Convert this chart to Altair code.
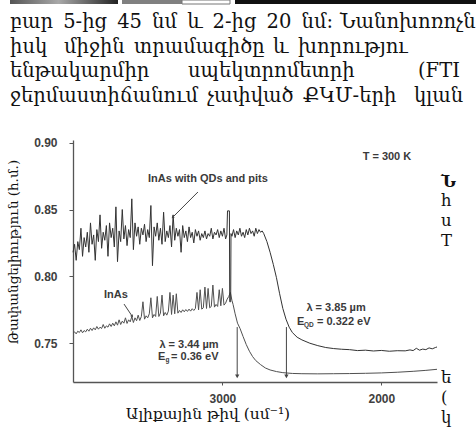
import altair as alt
import pandas as pd

# ---- spectra -------------------------------------------------------------
# InAs with quantum dots and pits (upper trace)
qd_wn = [
    3940, 3930, 3920, 3910, 3900, 3890, 3880, 3870, 3860, 3850,
    3840, 3830, 3820, 3810, 3800, 3790, 3780, 3770, 3760, 3750,
    3740, 3730, 3720, 3710, 3700, 3690, 3680, 3670, 3660, 3650,
    3640, 3630, 3620, 3610, 3600, 3590, 3580, 3570, 3560, 3550,
    3540, 3530, 3520, 3510, 3500, 3490, 3480, 3470, 3460, 3450,
    3440, 3430, 3420, 3410, 3400, 3390, 3380, 3370, 3360, 3350,
    3340, 3330, 3320, 3310, 3300, 3290, 3280, 3270, 3260, 3250,
    3240, 3230, 3220, 3210, 3200, 3190, 3180, 3170, 3160, 3150,
    3140, 3130, 3120, 3110, 3100, 3090, 3080, 3070, 3060, 3050,
    3040, 3030, 3020, 3010, 3000, 2990, 2980,
    2972, 2968, 2956, 2954, 2948, 2946,
    2940, 2930, 2920, 2910, 2900, 2890, 2880, 2870, 2860, 2850,
    2840, 2830, 2820, 2810, 2800, 2790, 2780, 2770, 2760, 2750,
    2740, 2720, 2700, 2680, 2660, 2640, 2620, 2600, 2580, 2560,
    2530, 2500, 2450, 2400, 2350, 2300, 2250, 2200, 2150, 2100,
    2050, 2000, 1950, 1900, 1850, 1820, 1800, 1780, 1760, 1740,
    1720, 1700, 1680, 1660, 1650,
]
qd_tr = [
    0.818, 0.824, 0.812, 0.826, 0.820, 0.836, 0.815, 0.829, 0.822, 0.833,
    0.818, 0.840, 0.824, 0.831, 0.812, 0.835, 0.826, 0.846, 0.821, 0.833,
    0.827, 0.838, 0.815, 0.840, 0.829, 0.836, 0.822, 0.852, 0.811, 0.834,
    0.826, 0.850, 0.828, 0.838, 0.823, 0.835, 0.829, 0.858, 0.820, 0.840,
    0.830, 0.837, 0.824, 0.836, 0.831, 0.839, 0.826, 0.835, 0.829, 0.853,
    0.808, 0.837, 0.830, 0.840, 0.827, 0.836, 0.824, 0.848, 0.826, 0.834,
    0.829, 0.838, 0.822, 0.846, 0.827, 0.836, 0.830, 0.835, 0.818, 0.838,
    0.829, 0.834, 0.826, 0.837, 0.829, 0.833, 0.825, 0.835, 0.830, 0.834,
    0.827, 0.832, 0.829, 0.834, 0.828, 0.832, 0.830, 0.836, 0.828, 0.833,
    0.831, 0.835, 0.829, 0.834, 0.830, 0.836, 0.828,
    0.831, 0.849, 0.849, 0.781, 0.781, 0.832,
    0.830, 0.835, 0.829, 0.834, 0.831, 0.836, 0.830, 0.833, 0.829, 0.835,
    0.831, 0.836, 0.832, 0.834, 0.830, 0.836, 0.832, 0.835, 0.833, 0.834,
    0.832, 0.826, 0.818, 0.809, 0.799, 0.787, 0.776, 0.768, 0.762, 0.758,
    0.7545, 0.7525, 0.7500, 0.7482, 0.7468, 0.7460, 0.7455, 0.7452, 0.7445, 0.7448,
    0.7442, 0.7446, 0.7440, 0.7444, 0.7443, 0.7450, 0.7445, 0.7462, 0.7448, 0.7456,
    0.7452, 0.7465, 0.7458, 0.7468, 0.7472,
]

# Bare InAs (lower trace)
inas_wn = [
    3940, 3930, 3920, 3910, 3900, 3890, 3880, 3870, 3860, 3850,
    3840, 3830, 3820, 3810, 3800, 3790, 3780, 3770, 3760, 3750,
    3740, 3730, 3720, 3710, 3700, 3690, 3680, 3670, 3660, 3650,
    3640, 3630, 3620, 3610, 3600, 3590, 3580, 3570, 3560, 3550,
    3540, 3530, 3520, 3510, 3500, 3490, 3480, 3470, 3460, 3450,
    3440, 3430, 3420, 3410, 3400, 3390, 3380, 3370, 3360, 3350,
    3340, 3330, 3320, 3310, 3300, 3290, 3280, 3270, 3260, 3250,
    3240, 3230, 3220, 3210, 3200, 3190, 3180, 3170, 3160, 3150,
    3140, 3130, 3120, 3110, 3100, 3090, 3080, 3070, 3060, 3050,
    3040, 3030, 3020, 3010, 3000, 2990, 2980, 2970, 2960, 2950,
    2940, 2933, 2920, 2905, 2889, 2870, 2850, 2830, 2810, 2790,
    2760, 2730, 2700, 2660, 2620, 2560, 2500, 2400, 2300, 2200,
    2100, 2000, 1900, 1800, 1720, 1650,
]
inas_tr = [
    0.7575, 0.7585, 0.7570, 0.7590, 0.7580, 0.7600, 0.7578, 0.7595, 0.7585, 0.7605,
    0.7590, 0.7612, 0.7595, 0.7615, 0.7600, 0.7625, 0.7605, 0.7620, 0.7610, 0.7640,
    0.7612, 0.7630, 0.7620, 0.7645, 0.7625, 0.7650, 0.7630, 0.7660, 0.7635, 0.7675,
    0.7640, 0.7665, 0.7650, 0.7690, 0.7648, 0.7675, 0.7660, 0.7700, 0.7655, 0.7690,
    0.7668, 0.7710, 0.7670, 0.7700, 0.7810, 0.7680, 0.7705, 0.7690, 0.7720, 0.7840,
    0.7690, 0.7715, 0.7700, 0.7850, 0.7700, 0.7725, 0.7860, 0.7705, 0.7730, 0.7710,
    0.7740, 0.7880, 0.7715, 0.7860, 0.7720, 0.7870, 0.7725, 0.7745, 0.7730, 0.7750,
    0.7735, 0.7752, 0.7738, 0.7755, 0.7740, 0.7758, 0.7745, 0.7760, 0.7880, 0.7750,
    0.7900, 0.7755, 0.7765, 0.7920, 0.7760, 0.7910, 0.7765, 0.7775, 0.7935, 0.7770,
    0.7790, 0.7775, 0.7900, 0.7780, 0.7910, 0.7785, 0.7800, 0.7830, 0.7850, 0.7880,
    0.7820, 0.7790, 0.7720, 0.7650, 0.7610, 0.7550, 0.7490, 0.7440, 0.7400, 0.7370,
    0.7340, 0.7315, 0.7300, 0.7288, 0.7280, 0.7274, 0.7272, 0.7271, 0.7272, 0.7273,
    0.7275, 0.7278, 0.7283, 0.7290, 0.7297, 0.7305,
]

x_ticks = [3000, 2000]
y_ticks = [0.75, 0.80, 0.85, 0.90]

# absorption edges: wavelength (µm) and energy (eV)
edge_lambda = [3.44, 3.85]
edge_energy = [0.36, 0.322]

# ---- layout --------------------------------------------------------------
W, H = 476, 438
X0, Y0 = 73, 140          # plot origin on the page
PW, PH = 364, 242         # plot area size

SERIF = "DejaVu Serif"
SANS = "Liberation Sans"
INK = "#111111"
GREY = "#404040"
BODY = 19.5
SIDE = 16.5
THIN = "\u2009"           # extra word spacing for justified lines

xs = alt.Scale(domain=[1650, 3940], reverse=True, nice=False, zero=False)
ys = alt.Scale(domain=[0.721, 0.902], nice=False, zero=False)

x_axis = alt.Axis(values=x_ticks, format="d", title=None, grid=False,
                  tickSize=3, labelPadding=8, labelFont=SANS,
                  labelFontWeight="bold", labelFontSize=12, labelColor=GREY,
                  domainColor="#555555", tickColor="#555555", domainWidth=1.3,
                  labelFlush=False)
y_axis = alt.Axis(values=y_ticks, format=".2f", title=None, grid=False,
                  tickSize=4, labelPadding=12, labelFont=SANS,
                  labelFontWeight="bold", labelFontSize=12, labelColor=GREY,
                  domainColor="#555555", tickColor="#555555", domainWidth=1.3)

qd_df = pd.DataFrame({"wn": qd_wn, "tr": qd_tr})
inas_df = pd.DataFrame({"wn": inas_wn, "tr": inas_tr})

qd_line = alt.Chart(qd_df).mark_line(color="#333333", strokeWidth=1).encode(
    x=alt.X("wn:Q", scale=xs, axis=x_axis),
    y=alt.Y("tr:Q", scale=ys, axis=y_axis),
    order=alt.Order("wn:Q", sort="descending"),
)
inas_line = alt.Chart(inas_df).mark_line(color="#505050", strokeWidth=1).encode(
    x=alt.X("wn:Q", scale=xs),
    y=alt.Y("tr:Q", scale=ys),
    order=alt.Order("wn:Q", sort="descending"),
)

# vertical arrows at the absorption edges (wavenumber = 1e4 / lambda)
edge_df = pd.DataFrame({
    "wn": [1e4 / l for l in edge_lambda],
    "top": [0.7621, 0.7621],
    "bot": [0.7252, 0.7252],
})
edge_rules = alt.Chart(edge_df).mark_rule(color="#444444", strokeWidth=1).encode(
    x=alt.X("wn:Q", scale=xs), y=alt.Y("top:Q", scale=ys), y2="bot:Q")
edge_heads = alt.Chart(edge_df).mark_point(
    shape="triangle-down", filled=True, size=18, color="#444444", opacity=1
).encode(x=alt.X("wn:Q", scale=xs), y=alt.Y("bot:Q", scale=ys))


def fmt_edge(i):
    return f"= {edge_energy[i]:g} eV"


# annotation labels inside the plot
ann_df = pd.DataFrame([
    {"t": "T = 300 K", "wn": 1965, "tr": 0.8893, "a": "center"},
    {"t": "InAs with QDs and pits", "wn": 3091, "tr": 0.8728, "a": "center"},
    {"t": "InAs", "wn": 3670, "tr": 0.7861, "a": "center"},
    {"t": f"λ = {edge_lambda[0]:.2f} µm", "wn": 3210, "tr": 0.7487, "a": "center"},
    {"t": "E", "wn": 3405, "tr": 0.7397, "a": "left"},
    {"t": fmt_edge(0), "wn": 3323, "tr": 0.7397, "a": "left"},
    {"t": f"λ = {edge_lambda[1]:.2f} µm", "wn": 2285, "tr": 0.7763, "a": "center"},
    {"t": "E", "wn": 2531, "tr": 0.7659, "a": "left"},
    {"t": fmt_edge(1), "wn": 2405, "tr": 0.7659, "a": "left"},
])
sub_df = pd.DataFrame([
    {"t": "g", "wn": 3358, "tr": 0.7377},
    {"t": "QD", "wn": 2487, "tr": 0.7638},
])


def ann_layer(df, align, size):
    return alt.Chart(df).mark_text(
        font=SANS, fontSize=size, fontWeight="bold", color="#3a3a3a",
        align=align, baseline="middle"
    ).encode(x=alt.X("wn:Q", scale=xs), y=alt.Y("tr:Q", scale=ys), text="t:N")


ann_center = ann_layer(ann_df[ann_df.a == "center"], "center", 11)
ann_left = ann_layer(ann_df[ann_df.a == "left"], "left", 11)
ann_sub = ann_layer(sub_df, "left", 6.5)

# pointer lines from the curve labels
ptr_df = pd.DataFrame({
    "x1": [3154, 3619], "y1": [0.8631, 0.7793],
    "x2": [3311, 3569], "y2": [0.8444, 0.7704],
    "ang": [225, 146],
})
ptr_rules = alt.Chart(ptr_df).mark_rule(color="#444444", strokeWidth=1).encode(
    x=alt.X("x1:Q", scale=xs), y=alt.Y("y1:Q", scale=ys), x2="x2:Q", y2="y2:Q")
ptr_heads = alt.Chart(ptr_df).mark_point(
    shape="triangle", filled=True, size=10, color="#444444", opacity=1
).encode(x=alt.X("x2:Q", scale=xs), y=alt.Y("y2:Q", scale=ys),
         angle=alt.Angle("ang:Q", scale=None))


# ---- surrounding page ----------------------------------------------------
def page_text(txt, px, py, size=BODY, weight="normal", font=SERIF,
              color=INK, angle=0, align="left", baseline="alphabetic"):
    return alt.Chart(alt.Data(values=[{}])).mark_text(
        text=txt, font=font, fontSize=size, fontWeight=weight, color=color,
        angle=angle, align=align, baseline=baseline
    ).encode(x=alt.value(px - X0), y=alt.value(py - Y0))


def page_rect(x1, x2, y1, y2, fill, stroke=None):
    kw = {"fill": fill}
    if stroke:
        kw.update(stroke=stroke, strokeWidth=1)
    return alt.Chart(alt.Data(values=[{}])).mark_rect(**kw).encode(
        x=alt.value(x1 - X0), x2=alt.value(x2 - X0),
        y=alt.value(y1 - Y0), y2=alt.value(y2 - Y0))


strip = [
    page_rect(10, 118, 0, 4, alt.Gradient(
        gradient="linear", x1=0, x2=1, y1=0, y2=0,
        stops=[alt.GradientStop(color="#555555", offset=0),
               alt.GradientStop(color="#a8a8a8", offset=0.45),
               alt.GradientStop(color="#222222", offset=1)])),
    page_rect(122, 182, 0, 4, "#808080"),
    page_rect(182, 230, 0, 4, "#ffffff", stroke="#777777"),
    page_rect(235, 476, 0, 4, "#111111"),
]

line1 = (" " + THIN).join(["բար", "5-ից", "45", "նմ", "և", "2-ից", "20", "նմ:"])

body = [
    page_text(line1, 10, 28), page_text("Նանոխոռոչն", 340, 28),
    page_text("իսկ", 10, 52.5), page_text("միջին", 64, 52.5),
    page_text("տրամագիծը", 134, 52.5), page_text("և", 273, 52.5),
    page_text("խորությու", 298, 52.5),
    page_text("ենթակարմիր", 10, 77), page_text("սպեկտրոմետրի", 188, 77),
    page_text("(FTI", 418, 77),
    page_text("ջերմաստիճանում", 10, 101.5), page_text("չափված", 207, 101.5),
    page_text("ՔԿՄ-երի", 303, 101.5), page_text("կլան", 414, 101.5),
    page_text("Ն", 441, 187, size=SIDE, weight="bold"),
    page_text("հ", 441, 206, size=SIDE), page_text("ս", 441, 226, size=SIDE),
    page_text("T", 441, 246, size=SIDE),
    page_text("ե", 441, 383, size=SIDE), page_text("(", 441, 403, size=SIDE),
    page_text("կ", 441, 423, size=SIDE),
    page_text("Թափանցելիություն (հ.մ.)", 14, 252, size=13.5, angle=270,
              align="center", baseline="middle"),
    page_text("Ալիքային թիվ (սմ⁻¹)", 208, 414, size=15.5, align="center",
              baseline="middle"),
]

chart = alt.layer(
    *strip, *body,
    inas_line, qd_line, edge_rules, edge_heads, ptr_rules, ptr_heads,
    ann_center, ann_left, ann_sub,
).properties(
    width=PW, height=PH, autosize="none", background="white",
    padding={"left": X0, "top": Y0, "right": W - X0 - PW, "bottom": H - Y0 - PH},
).configure_view(stroke=None)

chart.save("out.html", embed_options={"renderer": "svg", "actions": False})
